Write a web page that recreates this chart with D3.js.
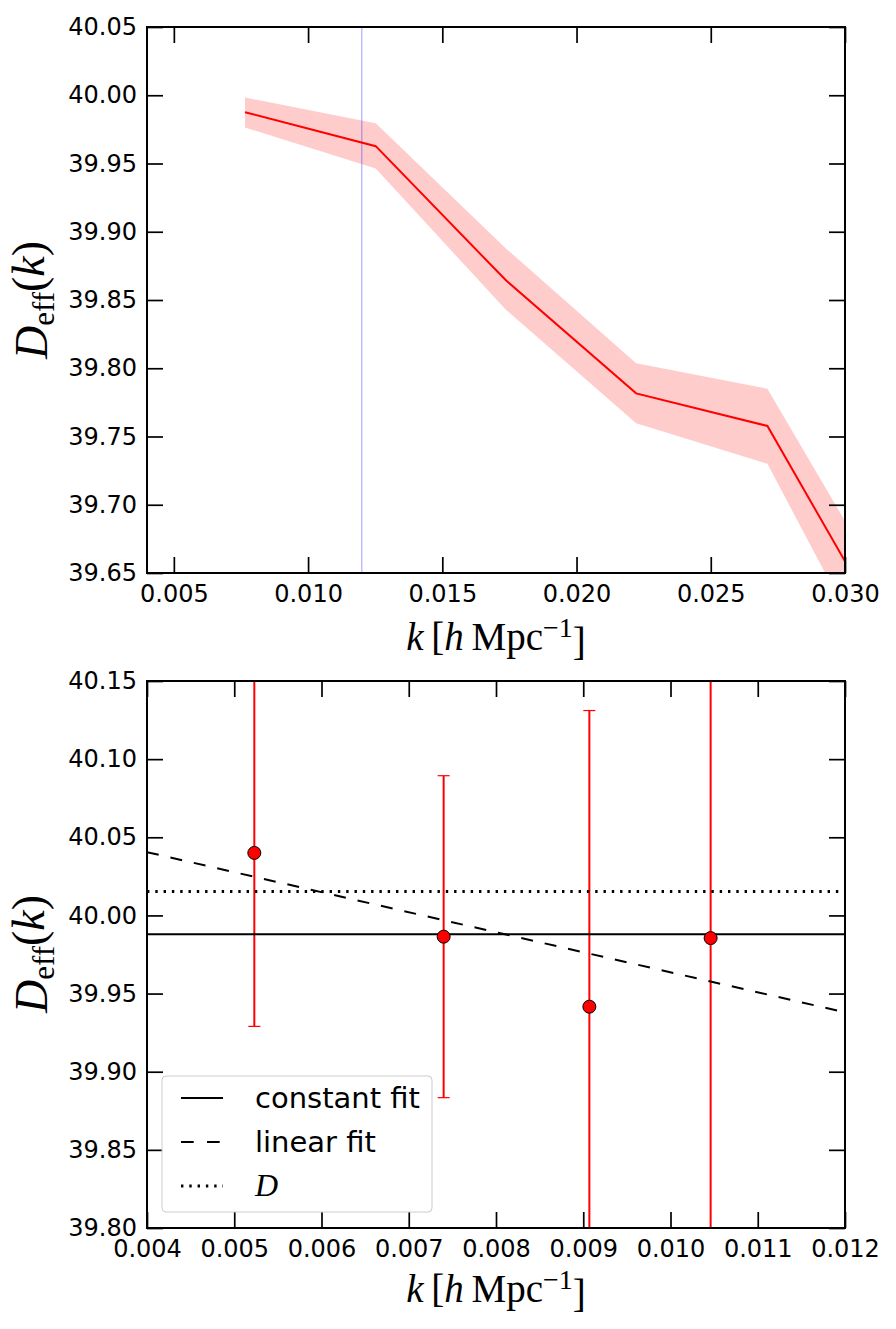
<!DOCTYPE html>
<html>
<head>
<meta charset="utf-8">
<script src="https://cdn.jsdelivr.net/npm/d3@7"></script>
<style>
  body { margin: 0; background: #fff; }
  svg { display: block; }
  .tick text { font-family: "DejaVu Sans", sans-serif; font-size: 24px; fill: #000; }
  .tick line { stroke: #000; stroke-width: 1.7px; }
  .domain { display: none; }
</style>
</head>
<body>
<div id="chart"></div>
<script>
// TOP PANEL: D_eff(k) with 1-sigma band
var topK  = [0.00765, 0.01252, 0.01736, 0.02222, 0.02711, 0.0320];
var topD  = [39.9876, 39.9627, 39.8646, 39.7816, 39.7577, 39.5900];
var topHi = [39.9983, 39.9795, 39.8880, 39.8036, 39.7850, 39.6210];
var topLo = [39.9764, 39.9463, 39.8430, 39.7597, 39.7300, 39.5480];
var topVLine = 0.012;
var topXTicks = [0.005, 0.010, 0.015, 0.020, 0.025, 0.030];
var topYTicks = [39.65, 39.70, 39.75, 39.80, 39.85, 39.90, 39.95, 40.00, 40.05];

// BOTTOM PANEL: binned estimates with error bars and fits
var botK   = [0.00523, 0.00740, 0.00907, 0.01046];
var botD   = [40.0400, 39.9864, 39.9416, 39.9855];
var botErr = [0.1110, 0.1030, 0.1895, 0.2600];
var constantFit = 39.988;
var trueD = 40.0153;
var linFitK = [0.004, 0.012];
var linFitD = [40.0405, 39.938];
var botXTicks = [0.004, 0.005, 0.006, 0.007, 0.008, 0.009, 0.010, 0.011, 0.012];
var botYTicks = [39.80, 39.85, 39.90, 39.95, 40.00, 40.05, 40.10, 40.15];
var legendLabels = ["constant fit", "linear fit", "D"];

var W = 896, H = 1329;
var LEFT = 147, RIGHT = 845;
var TICK = 16;

var svg = d3.select("#chart").append("svg")
	.attr("width", W)
	.attr("height", H);

svg.append("rect").attr("width", W).attr("height", H).attr("fill", "#fff");

var defs = svg.append("defs");

//DRAW FRAME, INWARD TICKS ON ALL FOUR SIDES
function frame(g, x, y, xTicks, yTicks, xFmt, yFmt){
	var y0 = y.range()[0], y1 = y.range()[1];
	g.append("g")
		.attr("transform", "translate(0," + y0 + ")")
		.call(d3.axisBottom(x).tickValues(xTicks).tickFormat(d3.format(xFmt)).tickSizeInner(-TICK).tickSizeOuter(0).tickPadding(12));
	g.append("g")
		.attr("transform", "translate(0," + y1 + ")")
		.call(d3.axisTop(x).tickValues(xTicks).tickFormat("").tickSizeInner(-TICK).tickSizeOuter(0));
	g.append("g")
		.attr("transform", "translate(" + LEFT + ",0)")
		.call(d3.axisLeft(y).tickValues(yTicks).tickFormat(d3.format(yFmt)).tickSizeInner(-TICK).tickSizeOuter(0).tickPadding(10));
	g.append("g")
		.attr("transform", "translate(" + RIGHT + ",0)")
		.call(d3.axisRight(y).tickValues(yTicks).tickFormat("").tickSizeInner(-TICK).tickSizeOuter(0));
	g.append("rect")
		.attr("x", LEFT).attr("y", y1)
		.attr("width", RIGHT - LEFT).attr("height", y0 - y1)
		.attr("fill", "none").attr("stroke", "#000").attr("stroke-width", 2);
}

function clip(id, y){
	defs.append("clipPath").attr("id", id)
		.append("rect")
		.attr("x", LEFT).attr("y", y.range()[1])
		.attr("width", RIGHT - LEFT).attr("height", y.range()[0] - y.range()[1]);
}

var SERIF = "'Liberation Serif', 'DejaVu Serif', serif";

function xLabel(g, yPos){
	var t = g.append("text")
		.attr("x", (LEFT + RIGHT) / 2).attr("y", yPos)
		.attr("text-anchor", "middle")
		.style("font-family", SERIF).style("font-size", "39px");
	t.append("tspan").style("font-style", "italic").text("k");
	t.append("tspan").text("\u2009[");
	t.append("tspan").style("font-style", "italic").text("h");
	t.append("tspan").text("\u2009Mpc");
	t.append("tspan").attr("dy", "-0.45em").style("font-size", "28px").text("\u22121");
	t.append("tspan").attr("dy", "0.45em").text("]");
}

function yLabel(g, cy){
	var t = g.append("text")
		.attr("transform", "translate(47," + cy + ") rotate(-90)")
		.attr("text-anchor", "middle")
		.style("font-family", SERIF).style("font-size", "46px");
	t.append("tspan").style("font-style", "italic").text("D");
	t.append("tspan").attr("dy", "0.22em").style("font-size", "31px").text("eff");
	t.append("tspan").attr("dy", "-0.22em").text("(");
	t.append("tspan").style("font-style", "italic").text("k");
	t.append("tspan").text(")");
}

// ---------------- TOP PANEL ----------------
var x1 = d3.scaleLinear().domain([0.004, 0.030]).range([LEFT, RIGHT]);
var y1 = d3.scaleLinear().domain([39.65, 40.05]).range([573, 27]);
clip("clipTop", y1);

var gTop = svg.append("g");
var plotTop = gTop.append("g").attr("clip-path", "url(#clipTop)");

var topIdx = d3.range(topK.length);
plotTop.append("path")
	.datum(topIdx)
	.attr("d", d3.area()
		.x(function(i){ return x1(topK[i]); })
		.y0(function(i){ return y1(topLo[i]); })
		.y1(function(i){ return y1(topHi[i]); }))
	.attr("fill", "#ffcccc");

plotTop.append("line")
	.attr("x1", x1(topVLine)).attr("x2", x1(topVLine))
	.attr("y1", y1.range()[0]).attr("y2", y1.range()[1])
	.attr("stroke", "#0000ff").attr("stroke-opacity", 0.3).attr("stroke-width", 1.3);

plotTop.append("path")
	.datum(topIdx)
	.attr("d", d3.line()
		.x(function(i){ return x1(topK[i]); })
		.y(function(i){ return y1(topD[i]); }))
	.attr("fill", "none").attr("stroke", "red").attr("stroke-width", 2);

frame(gTop, x1, y1, topXTicks, topYTicks, ".3f", ".2f");
xLabel(gTop, 650);
yLabel(gTop, 300);

// ---------------- BOTTOM PANEL ----------------
var x2 = d3.scaleLinear().domain([0.004, 0.012]).range([LEFT, RIGHT]);
var y2 = d3.scaleLinear().domain([39.80, 40.15]).range([1228, 681]);
clip("clipBot", y2);

var gBot = svg.append("g");
var plotBot = gBot.append("g").attr("clip-path", "url(#clipBot)");

//ERROR BARS
botK.forEach(function(k, i){
	var xx = x2(k);
	var lo = botD[i] - botErr[i], hi = botD[i] + botErr[i];
	plotBot.append("line")
		.attr("x1", xx).attr("x2", xx)
		.attr("y1", y2(lo)).attr("y2", y2(hi))
		.attr("stroke", "red").attr("stroke-width", 2);
	[lo, hi].forEach(function(v){
		plotBot.append("line")
			.attr("x1", xx - 6).attr("x2", xx + 6)
			.attr("y1", y2(v)).attr("y2", y2(v))
			.attr("stroke", "red").attr("stroke-width", 1.2);
	});
});

//FIT LINES
plotBot.append("line")
	.attr("x1", LEFT).attr("x2", RIGHT)
	.attr("y1", y2(constantFit)).attr("y2", y2(constantFit))
	.attr("stroke", "#000").attr("stroke-width", 2);
plotBot.append("line")
	.attr("x1", x2(linFitK[0])).attr("x2", x2(linFitK[1]))
	.attr("y1", y2(linFitD[0])).attr("y2", y2(linFitD[1]))
	.attr("stroke", "#000").attr("stroke-width", 2).attr("stroke-dasharray", "12,12");
plotBot.append("line")
	.attr("x1", LEFT).attr("x2", RIGHT)
	.attr("y1", y2(trueD)).attr("y2", y2(trueD))
	.attr("stroke", "#000").attr("stroke-width", 3.2).attr("stroke-dasharray", "2.4,5.9");

//MARKERS
plotBot.selectAll("circle")
	.data(botK)
	.enter().append("circle")
	.attr("cx", function(k){ return x2(k); })
	.attr("cy", function(k, i){ return y2(botD[i]); })
	.attr("r", 6.5)
	.attr("fill", "red").attr("stroke", "#000").attr("stroke-width", 1);

frame(gBot, x2, y2, botXTicks, botYTicks, ".3f", ".2f");
xLabel(gBot, 1302);
yLabel(gBot, 954);

//LEGEND
var leg = gBot.append("g");
leg.append("rect")
	.attr("x", 162).attr("y", 1076).attr("width", 270).attr("height", 136)
	.attr("rx", 4).attr("ry", 4)
	.attr("fill", "#fff").attr("fill-opacity", 0.85)
	.attr("stroke", "#cccccc").attr("stroke-width", 1);
var dashes = [null, "12.7,13.3", "2.4,5.9"];
var widths = [2, 2, 3.2];
legendLabels.forEach(function(lab, i){
	var ry = 1098 + i * 44;
	leg.append("line")
		.attr("x1", 181).attr("x2", 223).attr("y1", ry).attr("y2", ry)
		.attr("stroke", "#000").attr("stroke-width", widths[i])
		.attr("stroke-dasharray", dashes[i]);
	var t = leg.append("text")
		.attr("x", 255).attr("y", ry + 10)
		.text(lab);
	if (i == 2) {
		t.style("font-family", SERIF).style("font-style", "italic").style("font-size", "32px");
	} else {
		t.style("font-family", "'DejaVu Sans', sans-serif").style("font-size", "29px");
	}
});
</script>
</body>
</html>
